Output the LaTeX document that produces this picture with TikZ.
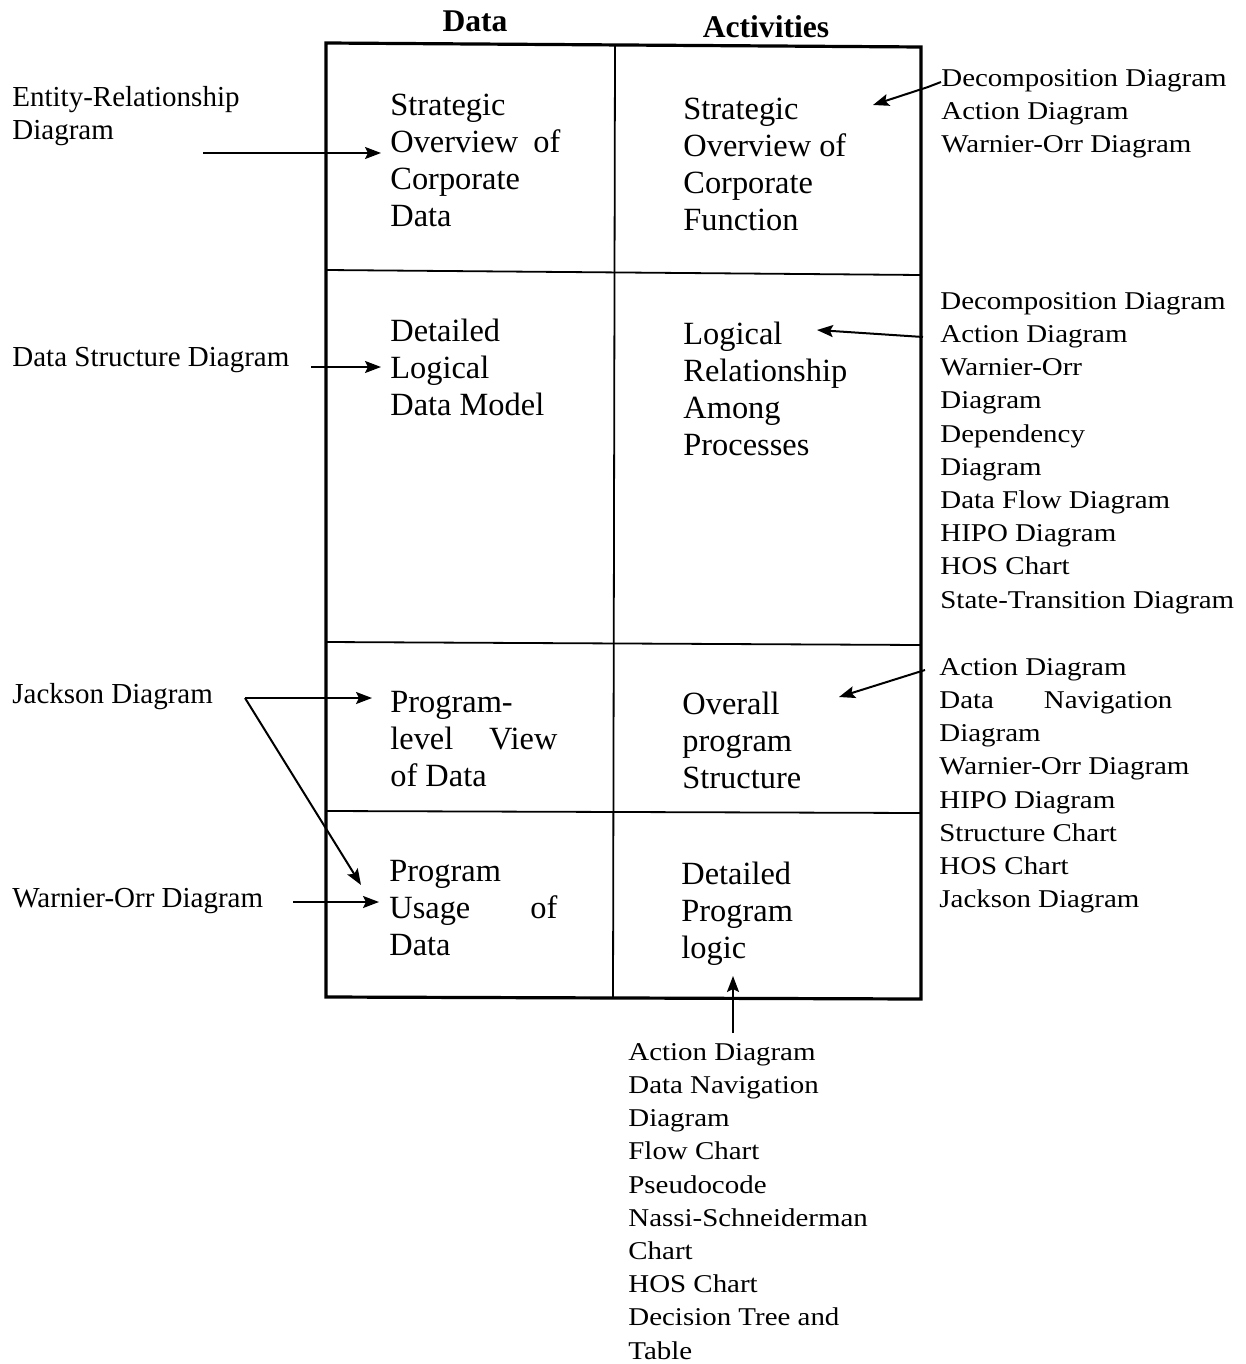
\documentclass[tikz,border=0pt]{standalone}
\usepackage{fontspec}
\setmainfont{Liberation Serif}
\newfontfamily\widefont[FakeStretch=1.13]{Liberation Serif}
\usetikzlibrary{arrows.meta}

% a line whose inter-word spaces are stretched to a given width
\newcommand{\spreadline}[2]{\makebox[#1][s]{#2}}

\begin{document}
\begin{tikzpicture}[x=0.5pt,y=-0.5pt,
  heading/.style={anchor=base, inner sep=0pt, font=\fontsize{15.8}{18}\selectfont\bfseries},
  cell/.style={anchor=north west, inner sep=0pt, align=left,
    font=\fontsize{16.2}{18.5}\selectfont, execute at begin node=\strut},
  leftlabel/.style={anchor=north west, inner sep=0pt, align=left,
    font=\fontsize{14.5}{16.5}\selectfont, execute at begin node=\strut},
  rightlabel/.style={anchor=north west, inner sep=0pt, align=left,
    font=\fontsize{12.8}{16.6}\selectfont\widefont, execute at begin node=\strut},
  frame/.style={line width=1.6pt},
  divider/.style={line width=0.9pt},
  link/.style={line width=1pt, -{Stealth[length=8pt,width=6pt,inset=1.5pt]}}
]
\useasboundingbox (0,0) rectangle (1246,1364);

% column headings
\node[heading] (hdata) at (475,32) {Data};
\node[heading] (hact) at (766,38) {Activities};

% grid
\draw[frame] (326,43) -- (921,47) -- (921,999) -- (326,997) -- cycle;
\draw[divider] (615,45) -- (613,998);
\draw[divider] (326,270) -- (921,275);
\draw[divider] (326,642) -- (921,645);
\draw[divider] (326,811) -- (921,813);

% cell contents
\node[cell] (c11) at (390,94) {Strategic\\\spreadline{85pt}{Overview of}\\Corporate\\Data};
\node[cell] (c12) at (683,98) {Strategic\\Overview of\\Corporate\\Function};
\node[cell] (c21) at (390,319) {Detailed\\Logical\\Data Model};
\node[cell] (c22) at (683,322) {Logical\\Relationship\\Among\\Processes};
\node[cell] (c31) at (390,691) {Program-\\\spreadline{83.5pt}{level View}\\of Data};
\node[cell] (c32) at (682,692) {Overall\\program\\Structure};
\node[cell] (c41) at (389,860) {Program\\\spreadline{84pt}{Usage of}\\Data};
\node[cell] (c42) at (681,862) {Detailed\\Program\\logic};

% diagram types on the data side
\node[leftlabel] (er) at (12,86) {Entity-Relationship\\Diagram};
\node[leftlabel] (dsd) at (12,343) {Data Structure Diagram};
\node[leftlabel] (jd) at (12,680) {Jackson Diagram};
\node[leftlabel] (wo) at (12,884) {Warnier-Orr Diagram};

% diagram types on the activities side
\node[rightlabel] (r1) at (941,69) {Decomposition Diagram\\Action Diagram\\Warnier-Orr Diagram};
\node[rightlabel] (r2) at (940,292) {Decomposition Diagram\\Action Diagram\\Warnier-Orr\\Diagram\\Dependency\\Diagram\\Data Flow Diagram\\HIPO Diagram\\HOS Chart\\State-Transition Diagram};
\node[rightlabel] (r3) at (939,658) {Action Diagram\\\spreadline{116.5pt}{Data Navigation}\\Diagram\\Warnier-Orr Diagram\\HIPO Diagram\\Structure Chart\\HOS Chart\\Jackson Diagram};
\node[rightlabel] (r4) at (628,1043) {Action Diagram\\Data Navigation\\Diagram\\Flow Chart\\Pseudocode\\Nassi-Schneiderman\\Chart\\HOS Chart\\Decision Tree and\\Table};

% arrow end points
\coordinate (erT) at (203,153);  \coordinate (erH) at (381,153);
\coordinate (dsdT) at (311,367); \coordinate (dsdH) at (381,367);
\coordinate (jdT) at (245,698);  \coordinate (jdH1) at (372,698);
\coordinate (jdH2) at (361,885);
\coordinate (woT) at (293,902);  \coordinate (woH) at (379,902);
\coordinate (r1T) at (941,82);   \coordinate (r1B) at (928,87);
\coordinate (r1H) at (873,105);
\coordinate (r2T) at (923,337);  \coordinate (r2H) at (817,330);
\coordinate (r3T) at (925,670);  \coordinate (r3H) at (839,697);
\coordinate (r4T) at (733,1033); \coordinate (r4H) at (733,976);

\draw[link] (erT) -- (erH);
\draw[link] (dsdT) -- (dsdH);
\draw[link] (jdT) -- (jdH1);
\draw[link] (jdT) -- (jdH2);
\draw[link] (woT) -- (woH);
\draw[link] (r1T) -- (r1B) -- (r1H);
\draw[link] (r2T) -- (r2H);
\draw[link] (r3T) -- (r3H);
\draw[link] (r4T) -- (r4H);
\end{tikzpicture}
\end{document}
